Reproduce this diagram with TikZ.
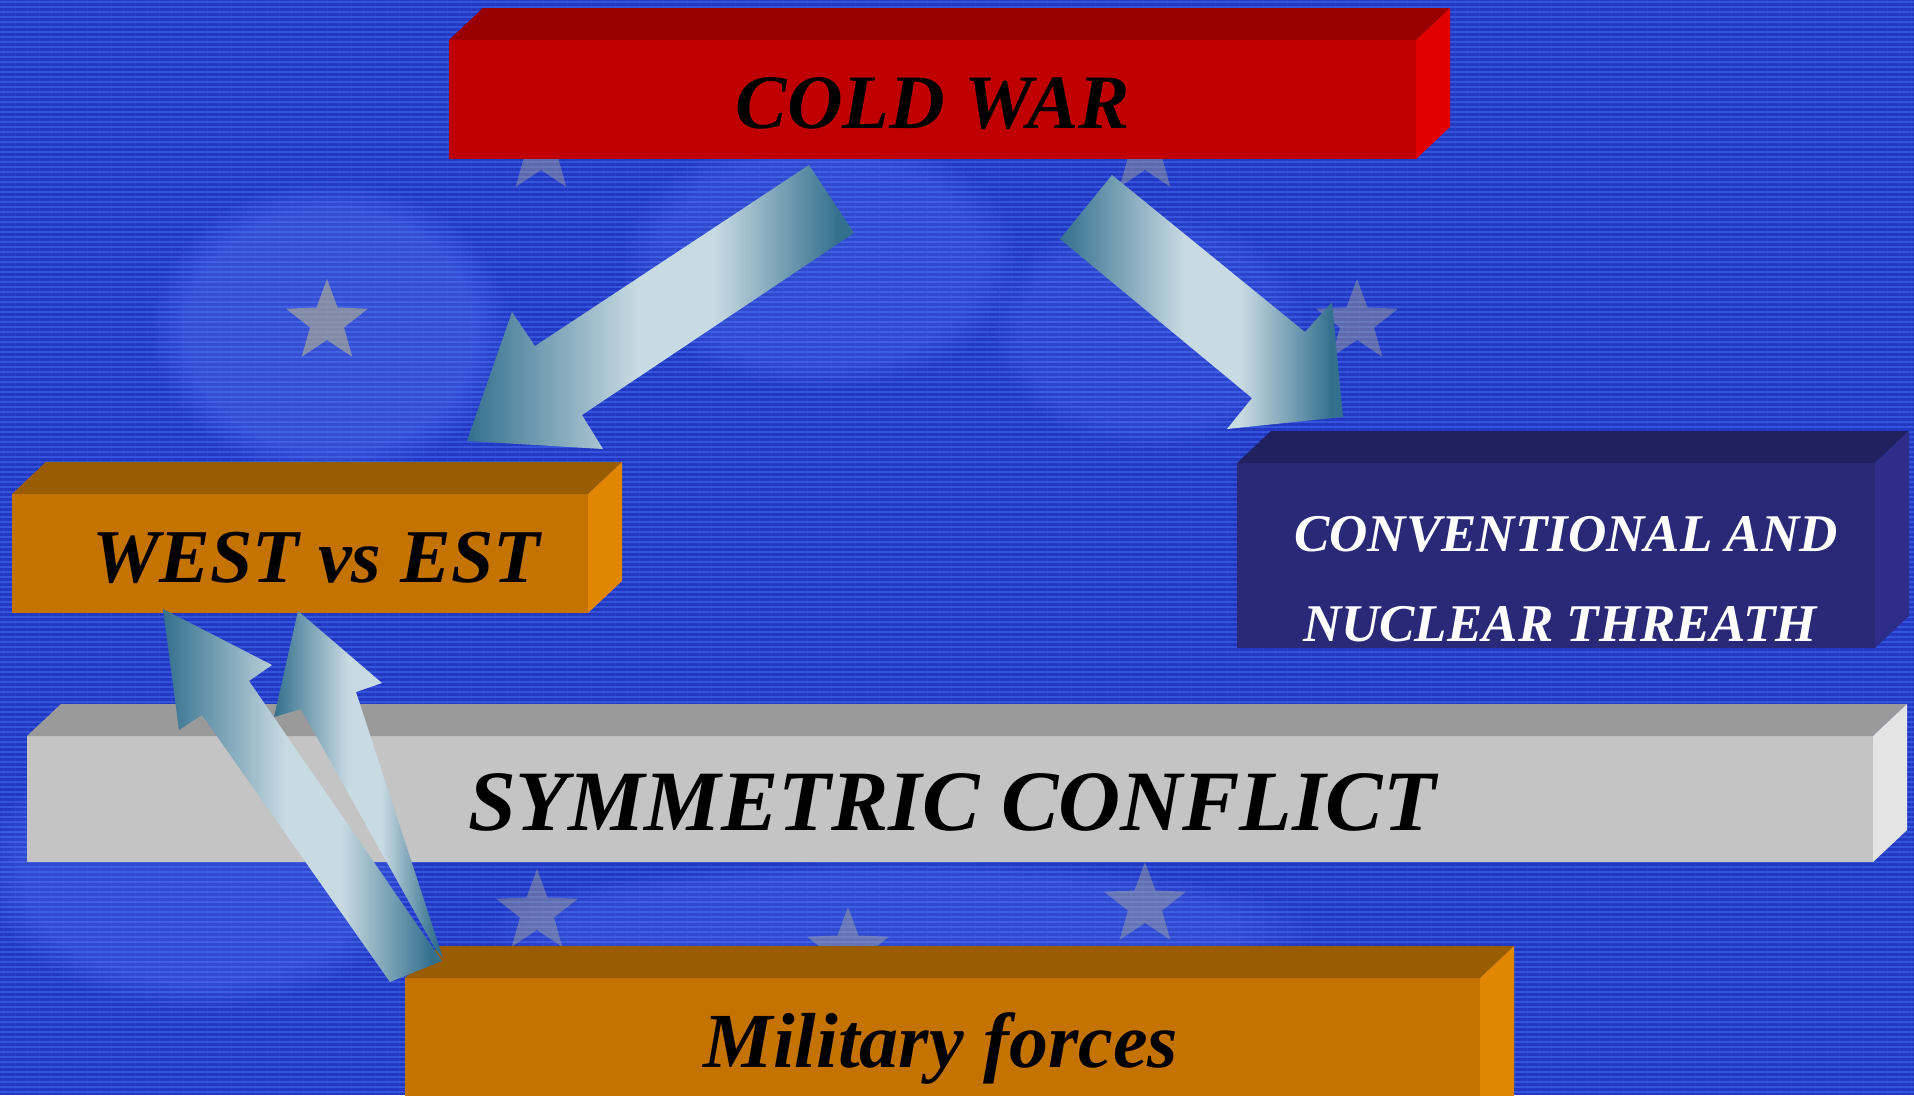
\documentclass[tikz,border=0pt]{standalone}
\usepackage{fontspec}
\setmainfont{Liberation Serif}
\usetikzlibrary{shapes.geometric,fadings}
\definecolor{bgblue}{HTML}{2238C2}
\definecolor{bgstripe}{HTML}{3554DC}
\definecolor{ghost}{HTML}{6A8CFF}
\definecolor{starcol}{HTML}{B8B48E}
\definecolor{redfront}{HTML}{C00000}
\definecolor{redtop}{HTML}{990000}
\definecolor{redside}{HTML}{E00000}
\definecolor{orfront}{HTML}{C47200}
\definecolor{ortop}{HTML}{995C00}
\definecolor{orside}{HTML}{E08600}
\definecolor{nvfront}{HTML}{292977}
\definecolor{nvtop}{HTML}{212160}
\definecolor{nvside}{HTML}{2E2E8A}
\definecolor{gyfront}{HTML}{C4C4C4}
\definecolor{gytop}{HTML}{9A9A9A}
\definecolor{gyside}{HTML}{E4E4E4}
\definecolor{arrdark}{HTML}{33708E}
\definecolor{arrlight}{HTML}{C8DAE2}
\pgfdeclarehorizontalshading{arrowshade}{100bp}{color(0bp)=(arrdark); color(25bp)=(arrdark); color(47bp)=(arrlight); color(57bp)=(arrlight); color(73bp)=(arrdark); color(100bp)=(arrdark)}
\newcommand{\boxfaces}[3]{%
  \fill[#2] (#1.north west) -- ++(34,-32) -- ([shift={(34,-32)}]#1.north east) -- (#1.north east) -- cycle;
  \fill[#3] (#1.north east) -- ++(34,-32) -- ([shift={(34,-32)}]#1.south east) -- (#1.south east) -- cycle;
}
\begin{document}
\begin{tikzpicture}[x=1pt,y=-1pt,
  face/.style={inner sep=0pt, outer sep=0pt, anchor=north west},
  lbl/.style={inner sep=0pt, anchor=base},
  eustar/.style={star, star points=5, star point ratio=2.4, fill=starcol, inner sep=0pt, minimum size=86pt, opacity=0.4},
  blockarrow/.style={shading=arrowshade, draw=none}]
\useasboundingbox (0,0) rectangle (1914,1095);
\clip (0,0) rectangle (1914,1095);
% background
\fill[bgblue] (0,0) rectangle (1914,1095);
\foreach \y in {2,7,...,1095} \draw[bgstripe, line width=1.6pt] (0,\y) -- (1914,\y);
\foreach \x in {3,15,...,1914} \draw[bgstripe, line width=0.6pt, opacity=0.35] (\x,0) -- (\x,1095);
% ghost image
\fill[ghost, opacity=0.25, path fading=circle with fuzzy edge 20 percent] (330,330) ellipse (180pt and 150pt);
\fill[ghost, opacity=0.2, path fading=circle with fuzzy edge 20 percent] (820,260) ellipse (200pt and 130pt);
\fill[ghost, opacity=0.22, path fading=circle with fuzzy edge 20 percent] (200,870) ellipse (220pt and 140pt);
\fill[ghost, opacity=0.2, path fading=circle with fuzzy edge 20 percent] (900,930) ellipse (420pt and 70pt);
\fill[ghost, opacity=0.15, path fading=circle with fuzzy edge 20 percent] (1150,330) ellipse (160pt and 120pt);
% stars
\node[eustar, opacity=0.6] (s1) at (327,322) {};
\node[eustar] (s2) at (541,152) {};
\node[eustar] (s3) at (1145,152) {};
\node[eustar] (s4) at (1357,322) {};
\node[eustar] (s5) at (537,912) {};
\node[eustar] (s6) at (1145,905) {};
\node[eustar] (s7) at (848,950) {};
% boxes
\node[face, fill=redfront, minimum width=967pt, minimum height=119pt] (cw) at (449,40) {};
\boxfaces{cw}{redtop}{redside}
\node[face, fill=orfront, minimum width=576pt, minimum height=119pt] (we) at (12,494) {};
\boxfaces{we}{ortop}{orside}
\node[face, fill=nvfront, minimum width=638pt, minimum height=185pt] (cv) at (1237,463) {};
\boxfaces{cv}{nvtop}{nvside}
\node[face, fill=gyfront, minimum width=1846pt, minimum height=126pt] (sy) at (27,736) {};
\boxfaces{sy}{gytop}{gyside}
\node[face, fill=orfront, minimum width=1075pt, minimum height=160pt] (mi) at (405,978) {};
\boxfaces{mi}{ortop}{orside}
% block arrows
\shade[blockarrow] (809,165) -- (535,346) -- (512,312) -- (467,441) -- (603,449) -- (582,415) -- (854,233) -- cycle;
\shade[blockarrow] (1112,175) -- (1305,332) -- (1332,302) -- (1343,417) -- (1227,429) -- (1252,398) -- (1060,239) -- cycle;
\shade[blockarrow] (298,611) -- (382,683) -- (356,692) -- (443,958) -- (436,950) -- (301,709) -- (274,717) -- cycle;
\shade[blockarrow] (163,609) -- (272,665) -- (249,681) -- (442,961) -- (390,982) -- (202,715) -- (179,730) -- cycle;
% labels
\node[lbl, font=\fontsize{77}{80}\selectfont\bfseries\itshape] (cwt) at (933,128) {COLD WAR};
\node[lbl, font=\fontsize{76}{80}\selectfont\bfseries\itshape] (wet) at (316,582) {WEST vs EST};
\node[lbl, text=white, font=\fontsize{53}{56}\selectfont\bfseries\itshape] (cvt1) at (1566,551) {CONVENTIONAL AND};
\node[lbl, text=white, font=\fontsize{53}{56}\selectfont\bfseries\itshape] (cvt2) at (1560,641) {NUCLEAR THREATH};
\node[lbl, font=\fontsize{86}{90}\selectfont\bfseries\itshape] (syt) at (952,830) {SYMMETRIC CONFLICT};
\node[lbl, font=\fontsize{78}{82}\selectfont\bfseries\itshape] (mit) at (941,1067) {Military forces};
\end{tikzpicture}
\end{document}
